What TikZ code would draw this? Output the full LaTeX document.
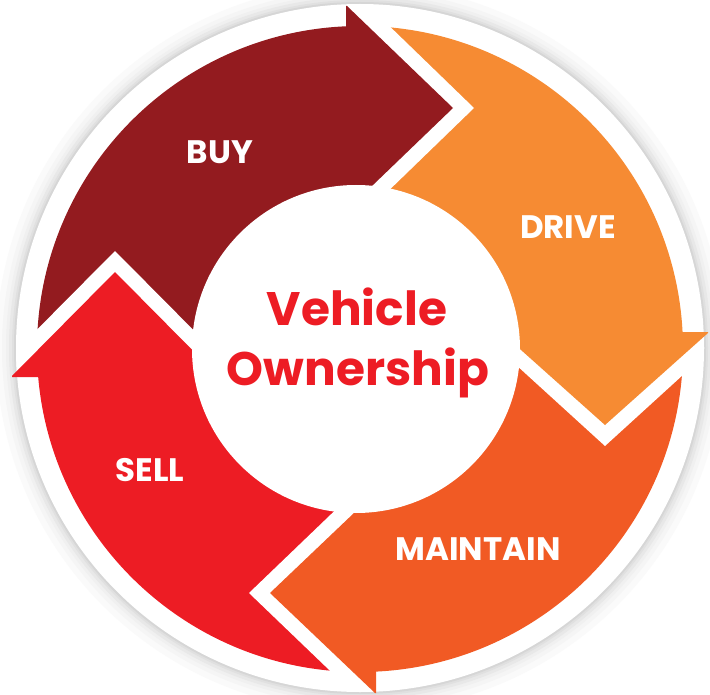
\documentclass[tikz,border=0pt]{standalone}
\usepackage{fontspec}
\newfontfamily\pop{Poppins}
\definecolor{buyc}{HTML}{931B1F}
\definecolor{drivec}{HTML}{F68B33}
\definecolor{maintc}{HTML}{F15A24}
\definecolor{sellc}{HTML}{ED1C24}
\begin{document}
\begin{tikzpicture}[x=1pt,y=-1pt,
  steplabel/.style={text=white,font=\pop\bfseries\fontsize{32.5}{32.5}\selectfont,inner sep=0pt},
  titletext/.style={text=sellc,font=\pop\bfseries\fontsize{47}{47}\selectfont,inner sep=0pt,anchor=base}]
\useasboundingbox (0,0) rectangle (710,695);
\fill[white] (0,0) rectangle (710,695);
% soft shadow round the white disc
\foreach \r/\c in {364/2,358/4,354/6,351/9,348/12,346/16}
  \fill[black!\c] (360,348) circle (\r pt);
\fill[white] (360,348) circle (344pt);
% arrow bodies
\begin{scope}\clip (347,-50) rectangle (760,333); \fill[drivec] (360,349) circle (323pt); \end{scope}
\begin{scope}\clip (375,333) rectangle (760,760); \fill[maintc] (360,349) circle (323pt); \end{scope}
\begin{scope}\clip (-50,376) rectangle (375,760); \fill[sellc] (360,349) circle (323pt); \end{scope}
\begin{scope}\clip (-50,-50) rectangle (347,376); \fill[buyc] (360,349) circle (323pt); \end{scope}
% white gaps (notches)
\begin{scope}
  \clip (360,348) circle (344pt);
  \fill[white] (347,-15) -- (474,108) -- (347,231) -- cycle;
  \fill[white] (729,333) -- (605,446) -- (481,333) -- cycle;
  \fill[white] (375,714) -- (249,593) -- (375,472) -- cycle;
  \fill[white] (-9,376) -- (115,251) -- (239,376) -- cycle;
\end{scope}
% arrow heads
\fill[buyc] (346,6) -- (347,6) -- (453,108) -- (347,210) -- (346,210) -- cycle;
\fill[drivec] (708,332) -- (708,333) -- (605,425) -- (502,333) -- (502,332) -- cycle;
\fill[maintc] (376,693) -- (375,693) -- (270,593) -- (375,493) -- (376,493) -- cycle;
\fill[sellc] (12,377) -- (12,376) -- (115,272) -- (218,376) -- (218,377) -- cycle;
% inner disc
\fill[white] (356,349) circle (164pt);
% labels
\node[steplabel] (buy) at (220,152) {BUY};
\node[steplabel] (drive) at (568,227) {DRIVE};
\node[steplabel] (sell) at (150,470) {SELL};
\node[steplabel] (maintain) at (478,549) {MAINTAIN};
\node[titletext] (t1) at (357,325) {Vehicle};
\node[titletext] (t2) at (358,385) {Ownership};
\end{tikzpicture}
\end{document}
